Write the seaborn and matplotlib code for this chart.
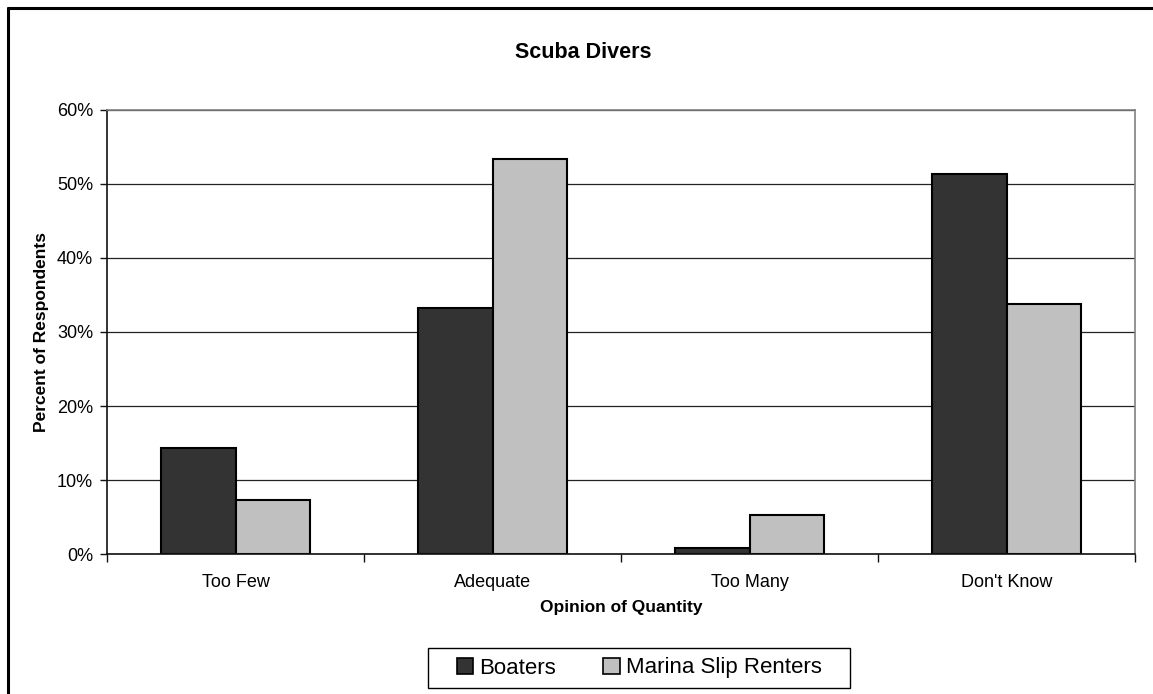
import matplotlib
matplotlib.use("Agg")
import matplotlib.pyplot as plt
from matplotlib.patches import Patch, Rectangle
from matplotlib.lines import Line2D
from matplotlib.ticker import FixedLocator, FuncFormatter
import seaborn as sns
import pandas as pd

categories = ["Too Few", "Adequate", "Too Many", "Don't Know"]
boaters = [14.4, 33.3, 0.9, 51.3]
marina_slip_renters = [7.3, 53.3, 5.3, 33.8]
series_names = ["Boaters", "Marina Slip Renters"]
y_ticks = [0, 10, 20, 30, 40, 50, 60]

colors = {"Boaters": "#333333", "Marina Slip Renters": "#C0C0C0"}

df = pd.DataFrame({
    "Opinion": categories * 2,
    "Group": [series_names[0]] * len(categories) + [series_names[1]] * len(categories),
    "Percent": boaters + marina_slip_renters,
})

sns.set_theme(style="white")
plt.rcParams["font.family"] = ["Liberation Sans", "DejaVu Sans"]
plt.rcParams["text.color"] = "black"
plt.rcParams["axes.labelcolor"] = "black"
plt.rcParams["xtick.color"] = "black"
plt.rcParams["ytick.color"] = "black"

W, H = 1153, 694
fig = plt.figure(figsize=(W / 100, H / 100), dpi=100)
ax = fig.add_axes([107 / W, 1 - 554.3 / H, (1135 - 107) / W, (554.3 - 109.7) / H])

sns.barplot(data=df, x="Opinion", y="Percent", hue="Group", order=categories,
            hue_order=series_names, palette=colors, width=0.58,
            edgecolor="black", linewidth=1.5, saturation=1, ax=ax, legend=False)

ax.set_ylim(0, 60)
ax.set_xlim(-0.5, len(categories) - 0.5)
ax.yaxis.set_major_locator(FixedLocator(y_ticks))
ax.yaxis.set_major_formatter(FuncFormatter(lambda v, p: f"{v:.0f}%"))
ax.yaxis.grid(True, color="#222222", linewidth=0.9)
ax.set_axisbelow(True)

# spines
for s in ["left", "bottom"]:
    ax.spines[s].set_color("#111111")
    ax.spines[s].set_linewidth(1.2)
ax.spines["right"].set_color("#808080")
ax.spines["right"].set_linewidth(1.2)
ax.spines["top"].set_color("#808080")
ax.spines["top"].set_linewidth(1.2)

# ticks
ax.tick_params(axis="y", which="major", direction="out", length=5, width=1,
               color="#111111", pad=5, labelsize=13, labelcolor="black", left=True)
ax.tick_params(axis="x", which="major", length=0, pad=14, labelsize=13,
               labelcolor="black", bottom=True)
ax.set_xticks([i - 0.5 for i in range(len(categories) + 1)], minor=True)
ax.tick_params(axis="x", which="minor", direction="out", length=6, width=1,
               color="#111111", bottom=True)

ax.set_xlabel("Opinion of Quantity", fontsize=12.5, fontweight="bold", labelpad=7,
              color="black")
ax.set_ylabel("Percent of Respondents", fontsize=12.5, fontweight="bold", labelpad=6,
              color="black")

fig.text(583 / W, 1 - 52 / H, "Scuba Divers", ha="center", va="center",
         fontsize=15.5, fontweight="bold", color="black")

handles = [Patch(facecolor=colors[n], edgecolor="black", linewidth=1.2) for n in series_names]
leg = fig.legend(handles, series_names, loc="center",
                 bbox_to_anchor=(639 / W, 1 - 668 / H), ncol=2, fontsize=16,
                 frameon=False,
                 handlelength=0.75, handleheight=0.75, handletextpad=0.25,
                 columnspacing=2.15, borderpad=0.45, borderaxespad=0)
for t in leg.get_texts():
    t.set_color("black")

# legend frame box
fig.add_artist(Rectangle((428 / W, 1 - 688 / H), (850 - 428) / W, 40 / H,
                         transform=fig.transFigure, facecolor="none",
                         edgecolor="black", linewidth=1.0, zorder=4))

# outer chart frame (left and top edges visible)
fig.add_artist(Line2D([8 / W, 8 / W], [0, 1 - 8 / H], transform=fig.transFigure,
                      color="black", linewidth=2.2))
fig.add_artist(Line2D([8 / W, 1], [1 - 8 / H, 1 - 8 / H], transform=fig.transFigure,
                      color="black", linewidth=2.2))

fig.savefig("out.png", dpi=100, facecolor="white")
